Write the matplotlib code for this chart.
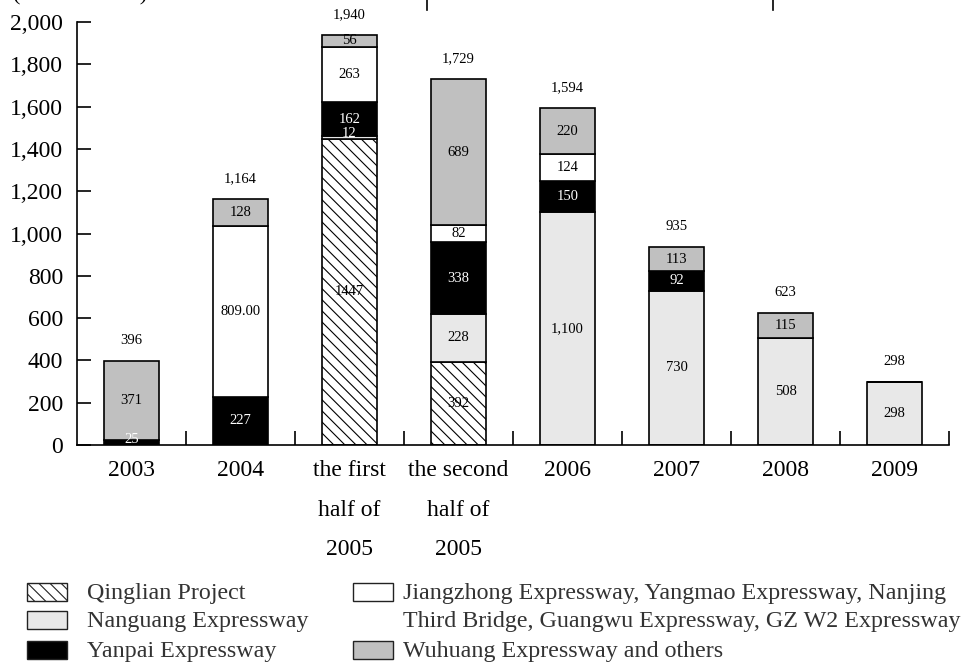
import numpy as np
import matplotlib
matplotlib.use("Agg")
import matplotlib.pyplot as plt
from matplotlib.patches import Rectangle
from matplotlib.lines import Line2D
from matplotlib.ticker import FuncFormatter

plt.rcParams["font.family"] = ["Liberation Serif", "DejaVu Serif"]
plt.rcParams["hatch.linewidth"] = 0.8

# ── Data ──────────────────────────────────────────────────────────────────────
periods = ["2003", "2004", "the first\nhalf of\n2005", "the second\nhalf of\n2005",
           "2006", "2007", "2008", "2009"]
qinglian = [0, 0, 1447, 392, 0, 0, 0, 0]
nanguang = [0, 0, 12, 228, 1100, 730, 508, 298]
yanpai = [25, 227, 162, 338, 150, 92, 0, 0]
jiangzhong = [0, 809, 263, 82, 124, 0, 0, 0]
wuhuang = [371, 128, 56, 689, 220, 113, 115, 0]
totals = [396, 1164, 1940, 1729, 1594, 935, 623, 298]

# per-segment label text (None = no label)
qinglian_lbl = [None, None, "1447", "392", None, None, None, None]
nanguang_lbl = [None, None, "12", "228", "1,100", "730", "508", "298"]
yanpai_lbl = ["25", "227", "162", "338", "150", "92", None, None]
jiangzhong_lbl = [None, "809.00", "263", "82", "124", None, None, None]
wuhuang_lbl = ["371", "128", "56", "689", "220", "113", "115", None]

series = [
    ("Qinglian Project", qinglian, qinglian_lbl, "white", "\\\\\\", "black"),
    ("Nanguang Expressway", nanguang, nanguang_lbl, "#e8e8e8", None, "black"),
    ("Yanpai Expressway", yanpai, yanpai_lbl, "black", None, "white"),
    ("Jiangzhong Expressway, Yangmao Expressway, Nanjing\n"
     "Third Bridge, Guangwu Expressway, GZ W2 Expressway",
     jiangzhong, jiangzhong_lbl, "white", None, "black"),
    ("Wuhuang Expressway and others", wuhuang, wuhuang_lbl, "#c0c0c0", None, "black"),
]

fig = plt.figure(figsize=(9.66, 6.70), dpi=100)
ax = fig.add_axes([77 / 966, 1 - 445 / 670, 872 / 966, 423 / 670])

x = np.arange(len(periods))
bottom = np.zeros(len(periods))
for name, vals, lbls, color, hatch, tcolor in series:
    vals = np.array(vals, dtype=float)
    ax.bar(x, vals, width=0.5, bottom=bottom, color=color, hatch=hatch,
           edgecolor="black", linewidth=1.2, zorder=2)
    for i, (v, lb) in enumerate(zip(vals, lbls)):
        if lb is None:
            continue
        yc = bottom[i] + v / 2
        if v < 30:
            yc = bottom[i] + 28
        c = tcolor
        if name.startswith("Yanpai") and i == 0:
            c = "white"
        if name.startswith("Nanguang") and i == 2:
            c = "white"
        ax.text(x[i], yc, lb, ha="center", va="center", fontsize=10.5,
                color=c, zorder=3)
    bottom += vals

for i, t in enumerate(totals):
    ax.annotate(f"{t:,}", (x[i], t), xytext=(0, 10), textcoords="offset points",
                ha="center", va="bottom", fontsize=10.5)

ax.set_xlim(-0.5, 7.5)
ax.set_ylim(0, 2000)
ax.set_yticks(np.arange(0, 2001, 200))
ax.yaxis.set_major_formatter(FuncFormatter(lambda v, p: f"{int(v):,}"))
ax.set_xticks(x)
ax.set_xticklabels(periods, fontsize=17, linespacing=2.15, va="top")
ax.set_xticks(np.arange(0.5, 8, 1), minor=True)
ax.tick_params(axis="x", which="major", length=0, pad=11)
ax.tick_params(axis="x", which="minor", direction="in", length=10, width=1.2)
ax.tick_params(axis="y", direction="in", length=10, width=1.2, labelsize=17, pad=10)
for s in ["top", "right"]:
    ax.spines[s].set_visible(False)
for s in ["left", "bottom"]:
    ax.spines[s].set_linewidth(1.2)

# clipped unit caption and stray frame marks at the very top
fig.text(13 / 966, 1.0, "(RMB million)", fontsize=16, va="baseline", ha="left")
for xp in (427, 773):
    fig.add_artist(Line2D([xp / 966, xp / 966], [1.0, 1 - 10 / 670],
                          color="black", lw=1.2))

# ── Legend (drawn by hand to keep the two-line entry aligned) ─────────────────
legend_rows = [594, 622, 652]
legend_items = [(0, 0), (0, 1), (0, 2), (1, 0), (1, 2)]
handle_x = [27, 353]
text_x = [87, 403]
leg_color = "#333333"
for (name, vals, lbls, color, hatch, tcolor), (col, row) in zip(series, legend_items):
    hy = legend_rows[row] - 2
    fig.add_artist(Rectangle((handle_x[col] / 966, 1 - (hy + 9) / 670), 40 / 966, 18 / 670,
                             facecolor=color, hatch=hatch, edgecolor="#222222", lw=1.0))
    lines = name.split("\n")
    for k, line in enumerate(lines):
        fig.text(text_x[col] / 966, 1 - legend_rows[row + k] / 670, line,
                 fontsize=17.3, va="center", color=leg_color)

fig.savefig("out.png", dpi=100)
